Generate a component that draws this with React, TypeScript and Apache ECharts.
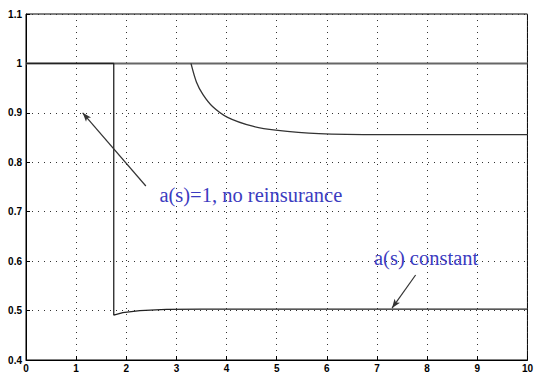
import React, { useEffect, useRef } from "react";
import * as echarts from "echarts";

const xTicks = [0, 1, 2, 3, 4, 5, 6, 7, 8, 9, 10];
const noReinsurance: [number, number][] = [
  [0, 1],
  [10, 1],
];
const upperCurve: [number, number][] = [
  [3.29, 1.0],
  [3.4, 0.962],
  [3.53, 0.937],
  [3.72, 0.913],
  [4.02, 0.891],
  [4.52, 0.873],
  [4.98, 0.865],
  [5.84, 0.858],
  [7.1, 0.856],
  [10, 0.856],
];
const constantCurve: [number, number][] = [
  [0, 1],
  [1.75, 1],
  [1.75, 0.491],
  [1.93, 0.4958],
  [2.27, 0.4998],
  [2.8, 0.5026],
  [3.5, 0.503],
  [10, 0.503],
];
const label1 = "a(s)=1, no reinsurance";
const label2 = "a(s) constant";
// annotation anchors in data coordinates
const label1Pos: [number, number] = [2.66, 0.734];
const label2Pos: [number, number] = [6.94, 0.606];
const arrow1: [[number, number], [number, number]] = [
  [2.39, 0.752],
  [1.13, 0.9],
];
const arrow2: [[number, number], [number, number]] = [
  [7.77, 0.572],
  [7.3, 0.505],
];

export default function App() {
  const ref = useRef<HTMLDivElement>(null);
  useEffect(() => {
    if (!ref.current) return;
    const chart = echarts.init(ref.current, null, { renderer: "svg" });
    const gridDot = { type: [1, 5] as any, color: "#333", width: 1 };
    const axisLabel = {
      color: "#000",
      fontWeight: "bold" as const,
      fontSize: 10,
      fontFamily: "Liberation Sans, Arial, sans-serif",
    };
    const arrowLine = (a: [[number, number], [number, number]]) => [
      { coord: a[0], symbol: "none" },
      { coord: a[1], symbol: "arrow", symbolSize: [5, 9] },
    ];
    chart.setOption({
      animation: false,
      backgroundColor: "#fff",
      grid: {
        left: 26,
        right: 7,
        top: 14,
        bottom: 16,
        show: true,
        borderColor: "#000",
        borderWidth: 1,
        backgroundColor: "#fff",
      },
      xAxis: {
        type: "value",
        min: 0,
        max: 10,
        interval: 1,
        axisLine: { show: true, lineStyle: { color: "#000" } },
        axisTick: { show: true, inside: true, length: 4, lineStyle: { color: "#000" } },
        axisLabel: { ...axisLabel, margin: 3 },
        splitLine: { show: true, lineStyle: gridDot },
      },
      yAxis: {
        type: "value",
        min: 0.4,
        max: 1.1,
        interval: 0.1,
        axisLine: { show: true, lineStyle: { color: "#000" } },
        axisTick: { show: true, inside: true, length: 4, lineStyle: { color: "#000" } },
        axisLabel: {
          ...axisLabel,
          margin: 4,
          formatter: (v: number) => String(Math.round(v * 10) / 10),
        },
        splitLine: { show: true, lineStyle: gridDot },
      },
      series: [
        {
          type: "line",
          name: label1,
          data: noReinsurance,
          showSymbol: false,
          lineStyle: { color: "#666", width: 2 },
          z: 3,
        },
        {
          type: "line",
          name: "upper",
          data: upperCurve,
          showSymbol: false,
          smooth: 0.3,
          lineStyle: { color: "#333", width: 1.3 },
          z: 4,
        },
        {
          type: "line",
          name: label2,
          data: constantCurve,
          showSymbol: false,
          lineStyle: { color: "#222", width: 1.3 },
          z: 4,
          markLine: {
            silent: true,
            animation: false,
            label: { show: false },
            lineStyle: { color: "#333", width: 1.2, type: "solid" },
            data: [arrowLine(arrow1), arrowLine(arrow2)],
          },
        },
      ],
    });
    const p1 = chart.convertToPixel({ gridIndex: 0 }, label1Pos) as number[];
    const p2 = chart.convertToPixel({ gridIndex: 0 }, label2Pos) as number[];
    const textStyle = {
      fill: "#3b3bc0",
      fontSize: 20.5,
      fontFamily: "Liberation Serif, Times New Roman, serif",
      verticalAlign: "middle",
      align: "left",
    };
    chart.setOption({
      graphic: [
        { type: "text", x: p1[0], y: p1[1], z: 10, style: { ...textStyle, text: label1 } },
        { type: "text", x: p2[0], y: p2[1], z: 10, style: { ...textStyle, text: label2 } },
      ],
    });
    return () => chart.dispose();
  }, []);
  return <div ref={ref} style={{ width: 536, height: 376, position: "absolute", left: 0, top: 0 }} />;
}
